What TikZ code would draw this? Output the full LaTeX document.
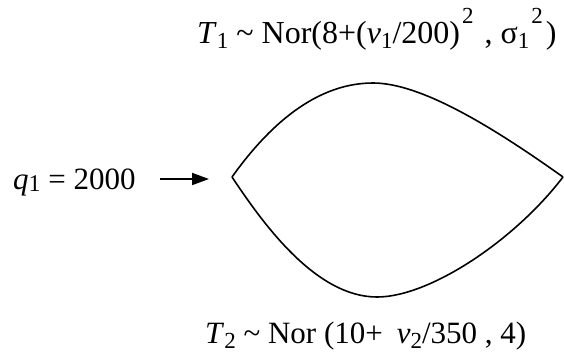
\documentclass[tikz,border=0pt]{standalone}
\usepackage{fontspec}
\setmainfont{Liberation Serif}
\usetikzlibrary{arrows.meta}
\newcommand{\lowsub}[1]{\raisebox{-5pt}{\fontsize{23}{23}\selectfont #1}}
\newcommand{\highsup}[1]{\hspace{2pt}\raisebox{20pt}{\fontsize{23}{23}\selectfont #1}}
\tikzset{
  lbl/.style={inner sep=0pt, anchor=base west, font=\fontsize{32}{32}\selectfont},
  lbltwo/.style={inner sep=0pt, anchor=base west, font=\fontsize{31}{31}\selectfont},
  qlbl/.style={inner sep=0pt, anchor=base west, font=\fontsize{31}{31}\selectfont},
  link/.style={line width=1.6pt},
  flow/.style={line width=1.8pt, -{Triangle[length=17pt,width=12pt]}}
}
\begin{document}
\begin{tikzpicture}[x=1pt,y=-1pt]
\useasboundingbox (0,0) rectangle (564,356);
\coordinate (L) at (232,177);
\coordinate (R) at (563,177);
\coordinate (Top) at (373,83);
\coordinate (Bot) at (377,297);
\coordinate (a1) at (160,179);
\coordinate (a2) at (209,179);
\draw[link] (L) .. controls (262,135) and (310,83) .. (Top)
                .. controls (420,83) and (490,125) .. (R);
\draw[link] (L) .. controls (262,222) and (315,297) .. (Bot)
                .. controls (430,297) and (515,240) .. (R);
\node[lbl] (t1) at (197,43) {\textit{T}\lowsub{1} \textasciitilde{} Nor(8+(\textit{v}\lowsub{1}/200)\highsup{2}\hspace{3pt} , σ\lowsub{1}\highsup{2}\hspace{3pt})};
\node[lbltwo] (t2) at (205,343) {\textit{T}\lowsub{2} \textasciitilde{} Nor (10+\hspace{14pt}\textit{v}\lowsub{2}/350 , 4)};
\node[qlbl] (q) at (13,189) {\textit{q}\raisebox{-2pt}{\fontsize{24}{24}\selectfont 1} = 2000};
\draw[flow] (a1) -- (a2);
\end{tikzpicture}
\end{document}
